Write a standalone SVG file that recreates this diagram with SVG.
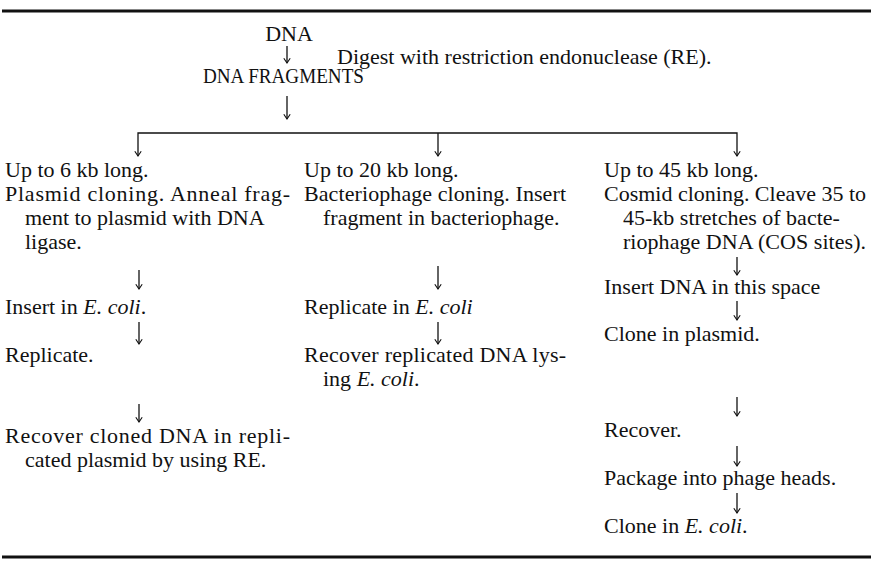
<svg xmlns="http://www.w3.org/2000/svg" width="873" height="569" viewBox="0 0 873 569">
<style>
text{font-family:"Liberation Serif","Times New Roman",serif;font-size:22px;fill:#111}
.i{font-style:italic}
.c{stroke:#111;stroke-width:1.3;fill:none}
.rule{stroke:#111;stroke-width:3}
</style>
<defs>
<marker id="ah" viewBox="0 0 10 10" refX="9" refY="5" markerWidth="8" markerHeight="8" markerUnits="userSpaceOnUse" orient="auto-start-reverse">
<path d="M3,1 L9,5 L3,9" fill="none" stroke="#111" stroke-width="1.4"/>
</marker>
</defs>
<rect width="873" height="569" fill="#fff"/>
<line class="rule" x1="2" y1="11" x2="871" y2="11"/>
<line class="rule" x1="2" y1="557" x2="871" y2="557"/>
<g id="n-dna"><text x="289" y="41" text-anchor="middle">DNA</text></g>
<g id="l-digest"><text x="337" y="64">Digest with restriction endonuclease (RE).</text></g>
<g id="n-fragments"><text x="203" y="83" textLength="161" lengthAdjust="spacingAndGlyphs">DNA FRAGMENTS</text></g>
<g id="n-plasmid">
<text x="5" y="177">Up to 6 kb long.</text>
<text x="5" y="201" textLength="285" lengthAdjust="spacing">Plasmid cloning. Anneal frag-</text>
<text x="25" y="225">ment to plasmid with DNA</text>
<text x="25" y="249">ligase.</text>
</g>
<g id="n-insert1"><text x="5" y="314">Insert in <tspan class="i">E. coli</tspan>.</text></g>
<g id="n-replicate1"><text x="5" y="362">Replicate.</text></g>
<g id="n-recover1">
<text x="5" y="443" textLength="285" lengthAdjust="spacing">Recover cloned DNA in repli-</text>
<text x="25" y="467">cated plasmid by using RE.</text>
</g>
<g id="n-phage">
<text x="304" y="177">Up to 20 kb long.</text>
<text x="304" y="201" textLength="262" lengthAdjust="spacing">Bacteriophage cloning. Insert</text>
<text x="323" y="225">fragment in bacteriophage.</text>
</g>
<g id="n-replicate2"><text x="304" y="314">Replicate in <tspan class="i">E. coli</tspan></text></g>
<g id="n-recover2">
<text x="304" y="362" textLength="262" lengthAdjust="spacing">Recover replicated DNA lys-</text>
<text x="323" y="386">ing <tspan class="i">E. coli</tspan>.</text>
</g>
<g id="n-cosmid">
<text x="604" y="177">Up to 45 kb long.</text>
<text x="604" y="201" textLength="262" lengthAdjust="spacing">Cosmid cloning. Cleave 35 to</text>
<text x="623" y="225">45-kb stretches of bacte-</text>
<text x="623" y="249" textLength="243" lengthAdjust="spacing">riophage DNA (COS sites).</text>
</g>
<g id="n-insert3"><text x="604" y="294">Insert DNA in this space</text></g>
<g id="n-clone3"><text x="604" y="341">Clone in plasmid.</text></g>
<g id="n-recover3"><text x="604" y="437">Recover.</text></g>
<g id="n-package"><text x="604" y="485">Package into phage heads.</text></g>
<g id="n-clone-ecoli"><text x="604" y="533">Clone in <tspan class="i">E. coli</tspan>.</text></g>
<g id="connectors">
<line class="c" x1="287" y1="46" x2="287" y2="63" marker-end="url(#ah)"/>
<line class="c" x1="287" y1="96" x2="287" y2="119" marker-end="url(#ah)"/>
<polyline class="c" points="138,156 138,133 737,133 737,156" marker-start="url(#ah)" marker-end="url(#ah)" stroke-width="1.8"/>
<line class="c" x1="438" y1="133" x2="438" y2="156" marker-end="url(#ah)"/>
<line class="c" x1="139" y1="270" x2="139" y2="289" marker-end="url(#ah)"/>
<line class="c" x1="139" y1="322" x2="139" y2="344" marker-end="url(#ah)"/>
<line class="c" x1="139" y1="404" x2="139" y2="422" marker-end="url(#ah)"/>
<line class="c" x1="438" y1="266" x2="438" y2="289" marker-end="url(#ah)"/>
<line class="c" x1="438" y1="322" x2="438" y2="344" marker-end="url(#ah)"/>
<line class="c" x1="737" y1="257" x2="737" y2="275" marker-end="url(#ah)"/>
<line class="c" x1="737" y1="301" x2="737" y2="320" marker-end="url(#ah)"/>
<line class="c" x1="737" y1="397" x2="737" y2="416" marker-end="url(#ah)"/>
<line class="c" x1="737" y1="446" x2="737" y2="466" marker-end="url(#ah)"/>
<line class="c" x1="737" y1="493" x2="737" y2="513" marker-end="url(#ah)"/>
</g>
</svg>
